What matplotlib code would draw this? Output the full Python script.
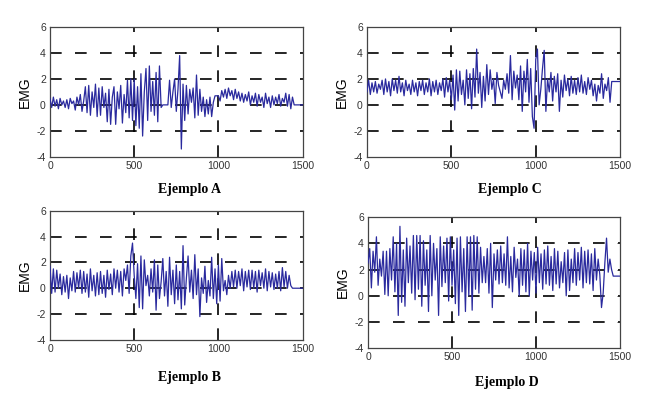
import numpy as np
import matplotlib
matplotlib.use("Agg")
import matplotlib.pyplot as plt

plt.rcParams["font.family"] = "Liberation Sans"
plt.rcParams["axes.unicode_minus"] = False

# ---------------------------------------------------------------- data
# samples every 10 units of x, starting at 0
EMG_A = [
    0.5, -0.2, 0.6, -0.1, 0.4, -0.3, 0.5, 0.0, 0.3, -0.2,
    0.4, -0.3, 0.5, 0.1, 0.3, -0.4, 0.6, 0.0, 0.8, -0.5,
    0.3, 1.4, -0.6, 1.5, -0.8, 1.0, -0.2, 1.6, -0.9, 1.3,
    -0.8, 1.4, -0.2, 0.9, -1.3, 1.2, -1.5, 0.6, 1.4, -1.5,
    1.0, -0.3, 1.5, -1.4, 0.8, -0.6, 1.9, -1.0, 2.0, -1.2,
    2.0, -1.6, 1.4, -1.8, 2.4, -2.4, 1.0, 2.8, -1.2, 3.0,
    -0.5, 1.8, -0.8, 2.5, -1.3, 3.0, -0.2, 0.0, 0.0, 0.0,
    0.0, 1.9, -0.2, 1.0, 2.0, -0.5, 1.2, 3.8, -3.4, 1.6,
    -1.2, 1.5, -0.7, 1.2, 0.2, 1.3, -1.0, 2.3, -0.8, 1.2,
    -0.5, 0.6, -0.9, 0.4, -0.7, 0.6, -0.9, 0.2, 0.7, 0.7,
    0.7, 0.3, 1.1, 0.6, 1.2, 0.5, 1.3, 0.7, 1.1, 0.4,
    1.2, 0.5, 1.0, 0.3, 0.9, 0.2, 0.8, 0.3, 1.0, 0.0,
    0.7, 0.2, 0.9, -0.1, 0.8, 0.2, 0.6, -0.2, 0.9, 0.1,
    0.6, -0.2, 0.7, 0.0, 0.6, 0.1, 0.8, -0.1, 0.5, 0.2,
    0.9, -0.1, 0.8, -0.3, 0.6, 0.0, 0.0, 0.0, 0.0, 0.0, 0.0,
]
EMG_B = [
    1.7, -0.4, 1.5, -0.3, 1.4, 0.0, 1.1, -0.5, 0.9, -0.3,
    1.0, -0.8, 0.8, -0.2, 1.3, -0.3, 1.2, 0.0, 1.4, -0.4,
    1.3, -0.3, 1.1, -0.7, 1.5, -0.2, 1.0, -0.6, 1.2, -0.5,
    1.3, -0.4, 1.0, -0.7, 1.4, -0.1, 1.1, -0.5, 1.5, 0.0,
    1.4, -0.3, 1.3, -0.6, 1.5, 0.6, 1.8, -0.4, 2.5, 3.5,
    1.0, -0.8, 1.9, -1.5, 2.5, -1.6, 2.2, 0.2, 1.0, -0.6,
    1.5, -0.3, 2.2, -1.7, 1.8, -0.8, 0.5, 2.3, -0.6, 1.3,
    -1.4, 2.4, -0.5, 1.4, -1.2, 1.8, -0.9, 1.3, -1.6, 3.3,
    -1.3, 0.8, 2.5, -0.3, 1.4, -0.8, 2.6, -0.5, 1.5, -2.2,
    0.8, -0.4, 1.7, -1.1, 0.6, -0.6, 2.4, -0.8, 1.5, -1.2,
    1.8, -1.0, 2.3, -0.2, 0.6, -0.5, 1.0, 0.0, 1.3, 0.1,
    1.4, 0.0, 1.3, 0.2, 1.5, -0.2, 1.3, 0.1, 1.4, -0.1,
    1.4, 0.0, 1.3, -0.3, 1.4, 0.2, 1.2, 0.0, 1.5, -0.2,
    1.3, 0.1, 1.2, -0.1, 1.1, 0.0, 1.3, -0.2, 1.6, 0.1,
    1.3, 0.0, 1.0, 0.2, 0.0, 0.0, 0.0, 0.0, 0.0, 0.0, 0.0,
]
EMG_C = [
    1.0, 1.9, 0.8, 1.7, 1.0, 1.8, 0.9, 1.6, 1.2, 1.9,
    0.8, 2.0, 1.0, 1.8, 0.7, 2.0, 1.1, 1.9, 0.9, 2.2,
    1.0, 1.7, 0.7, 1.9, 1.1, 1.6, 0.8, 1.9, 1.0, 1.7,
    0.7, 1.8, 1.1, 1.9, 0.8, 1.7, 1.0, 2.0, 0.7, 1.8,
    1.0, 1.9, 0.8, 1.7, 1.1, 2.0, 0.6, 2.1, 1.0, 1.9,
    0.4, 2.3, -0.4, 2.7, 0.3, 2.6, 0.8, 1.9, 0.0, 2.7,
    0.5, 2.4, -0.3, 2.8, 0.6, 4.3, 0.9, 2.5, -0.2, 2.2,
    0.3, 3.1, 0.8, 2.7, 1.2, 2.0, 0.1, 2.5, 1.5, 1.0,
    0.5, 1.9, 1.2, 2.4, 0.9, 3.8, 0.4, 2.6, 1.3, 2.3,
    0.4, 3.0, -0.5, 2.6, 1.0, 3.5, 0.2, 2.8, -0.9, -1.8,
    3.5, 4.3, 0.0, 1.2, 2.8, 4.2, -0.5, 2.0, 1.0, 2.5,
    0.3, 2.2, 1.0, 2.4, -0.5, 1.9, 0.6, 2.3, 1.1, 2.0,
    0.7, 2.2, 0.9, 1.9, 0.8, 2.1, 1.0, 2.3, 0.9, 1.8,
    0.8, 2.1, 1.2, 1.9, 0.7, 1.6, 0.3, 1.5, 0.9, 2.4,
    0.5, 1.6, 1.1, 2.1, 0.2, 1.8, 1.8, 1.8, 1.8, 1.8, 1.8,
]
EMG_D = [
    2.5, 3.6, 0.6, 3.4, 1.8, 4.5, 0.8, 2.8, 1.5, 3.4,
    0.1, 3.4, 0.0, 3.6, 1.2, 4.5, 0.3, 4.0, -1.5, 5.3,
    -0.5, 3.5, -0.8, 4.4, 1.0, 3.8, 0.2, 4.6, -0.3, 4.6,
    0.5, 4.6, -0.8, 4.2, 0.8, 3.5, -1.2, 4.6, 0.0, 4.0,
    1.2, 3.6, -1.5, 4.5, 0.7, 3.8, 1.0, 4.4, -0.4, 4.5,
    0.8, 3.5, -0.6, 4.4, -1.5, 4.5, 0.3, 3.6, -1.2, 4.5,
    0.0, 4.5, -1.1, 4.6, 0.5, 4.5, 0.2, 3.7, 1.0, 3.0,
    1.0, 3.6, 0.2, 4.0, -0.9, 3.2, 1.2, 3.5, 0.9, 3.8,
    1.0, 3.2, 0.8, 4.5, 0.6, 3.0, 0.3, 3.7, 1.4, 2.8,
    0.0, 3.6, 0.8, 3.5, 0.3, 4.0, 0.0, 3.4, 1.2, 3.3,
    0.2, 3.7, 1.0, 3.2, 0.5, 3.5, 0.9, 3.8, 0.8, 3.0,
    0.4, 3.6, 0.9, 3.4, 0.6, 2.6, 1.0, 3.3, 0.0, 3.5,
    0.4, 2.8, 1.0, 3.6, 0.8, 3.3, 1.2, 3.7, 0.6, 3.4,
    1.0, 3.5, 0.9, 3.2, 0.4, 3.6, 1.2, 2.8, 1.6, -0.9,
    0.2, 2.5, 4.4, 1.8, 2.8, 2.0, 1.5, 1.5, 1.5, 1.5, 1.5,
]
STEP = 10
XTICKS = [0, 500, 1000, 1500]
YTICKS = [-4, -2, 0, 2, 4, 6]

LINE_COL = "#2a2a9e"

# ---------------------------------------------------------------- layout (figure fractions)
# data, title, [left, bottom, width, height], title position
PANELS = [
    (EMG_A, "Ejemplo A", [0.0774, 0.605, 0.391, 0.327], (0.294, 0.522)),
    (EMG_B, "Ejemplo B", [0.0774, 0.144, 0.391, 0.325], (0.294, 0.050)),
    (EMG_C, "Ejemplo C", [0.568, 0.605, 0.392, 0.327], (0.790, 0.522)),
    (EMG_D, "Ejemplo D", [0.5697, 0.123, 0.390, 0.330], (0.785, 0.037)),
]

fig = plt.figure(figsize=(6.46, 3.97), dpi=100)

for vals, title, rect, (tx, ty) in PANELS:
    ax = fig.add_axes(rect)
    x = np.arange(len(vals)) * STEP
    ax.plot(x, vals, color=LINE_COL, lw=0.9, zorder=3)
    ax.set_xlim(0, 1500)
    ax.set_ylim(-4, 6)
    ax.set_xticks(XTICKS)
    ax.set_yticks(YTICKS)
    ax.grid(True, color="black", lw=1.2, dashes=(7, 8), zorder=1)
    # MATLAB-style: no grid drawn on top of the box edges
    for gl, v in zip(ax.get_xgridlines(), XTICKS):
        gl.set_visible(v not in (0, 1500))
    for gl, v in zip(ax.get_ygridlines(), YTICKS):
        gl.set_visible(v not in (-4, 6))
    ax.tick_params(direction="in", length=2, width=0.6, labelsize=7.5,
                   colors="#333333", top=True, right=True, pad=3)
    for s in ax.spines.values():
        s.set_color("#444444")
        s.set_linewidth(0.9)
    ax.set_ylabel("EMG", fontsize=10, labelpad=3)
    fig.text(tx, ty, title, ha="center", va="center", fontsize=10,
             fontweight="bold", family="Liberation Serif")

fig.savefig("out.png", dpi=100)
